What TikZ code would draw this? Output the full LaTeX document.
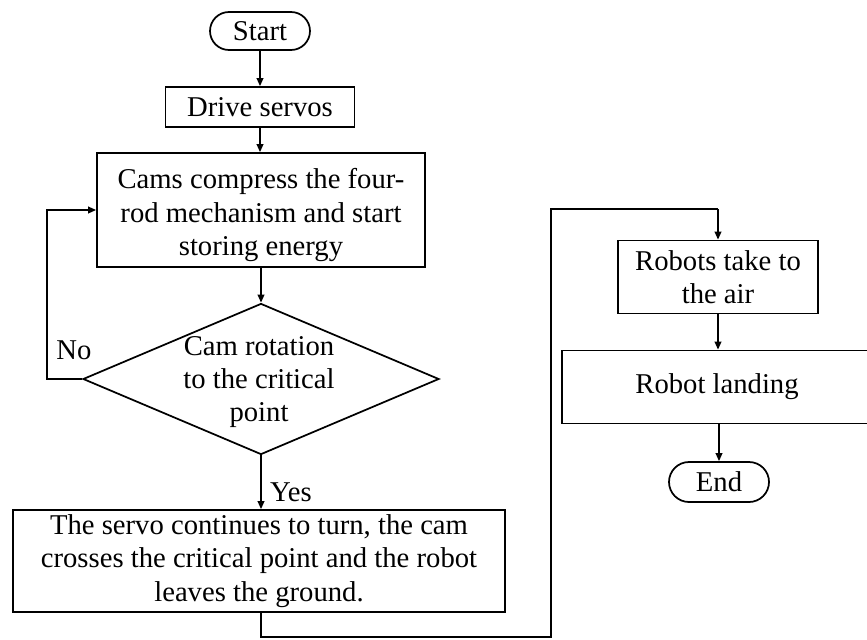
\documentclass[tikz,border=0pt]{standalone}
\usepackage{fontspec}
\setmainfont{Liberation Serif}
\usetikzlibrary{shapes.geometric,shapes.misc,arrows.meta}
\begin{document}
\begin{tikzpicture}[x=0.75pt,y=-0.75pt,
  every node/.style={font=\fontsize{21.5}{25}\selectfont, inner sep=0pt, align=center},
  box/.style={draw, line width=1.3pt, rectangle},
  term/.style={draw, line width=1.3pt, rounded rectangle},
  dia/.style={draw, line width=1.3pt, diamond},
  conn/.style={line width=1.2pt, -{Triangle[length=6pt,width=5pt]}},
  plain/.style={line width=1.2pt}]
\useasboundingbox (0,0) rectangle (867,639);
\node[term, minimum width=75pt, minimum height=28.5pt] (start) at (260,31) {Start};
\node[box, minimum width=141.75pt, minimum height=30pt] (drive) at (260,107) {Drive servos};
\node[box, minimum width=246pt, minimum height=85.5pt] (cams) at (261,210) {};
\node (camstext) at (261,215) {Cams compress the four-\\rod mechanism and start\\storing energy};
\node[dia, minimum width=267pt, minimum height=113.25pt] (dec) at (261,379) {};
\node (dectext) at (259,382) {Cam rotation\\to the critical\\point};
\node[box, minimum width=369pt, minimum height=76.5pt] (leave) at (259,561) {The servo continues to turn, the cam\\crosses the critical point and the robot\\leaves the ground.};
\node[box, minimum width=150pt, minimum height=54.75pt] (air) at (718,277) {Robots take to\\the air};
\node[box, minimum width=232.5pt, minimum height=54.75pt] (land) at (717,387) {Robot landing};
\node[term, minimum width=75pt, minimum height=30pt] (end) at (719,482) {End};
\node (no) at (74,350) {No};
\node (yes) at (291,492) {Yes};
\coordinate (c1) at (261,637);
\coordinate (c2) at (551,637);
\coordinate (c3) at (551,209);
\coordinate (c4) at (718,209);
\draw[conn] (start) -- (drive);
\draw[conn] (drive.south) -- (drive.south |- cams.north);
\draw[conn] (cams.south) -- (cams.south |- dec.north);
\draw[conn] (dec.west) -- ++(-35,0) |- (cams.west);
\draw[conn] (dec.south) -- (dec.south |- leave.north);
\draw[plain] (dec.south |- leave.south) -- (c1) -- (c2) -- (c3) -- (c4);
\draw[conn] (c4) -- (air.north);
\draw[conn] (air.south) -- (air.south |- land.north);
\draw[conn] (end.north |- land.south) -- (end.north);
\end{tikzpicture}
\end{document}
